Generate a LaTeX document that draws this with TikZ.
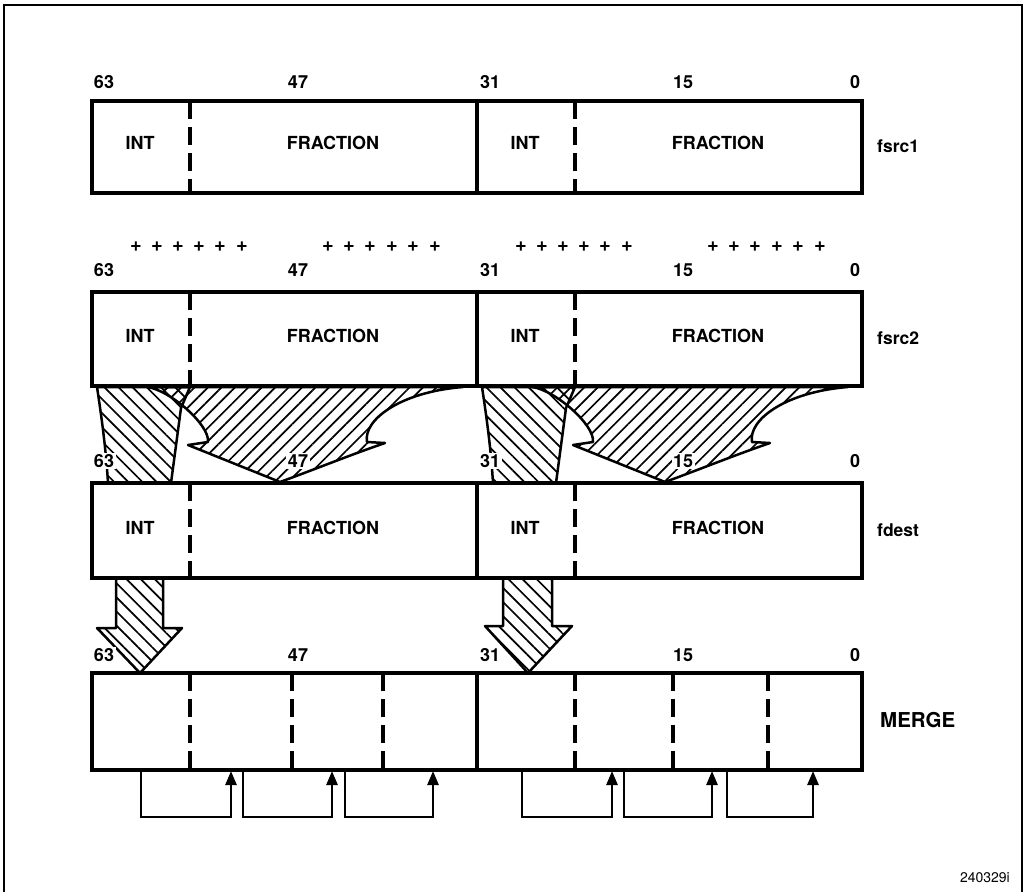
\documentclass[tikz,border=0pt]{standalone}
\usepackage{fontspec}
\setmainfont{TeX Gyre Heros}
\usetikzlibrary{patterns.meta,arrows.meta}
\begin{document}
\begin{tikzpicture}[x=1pt,y=-1pt,
  reg/.style={draw,line width=4pt,minimum width=770pt,inner sep=0pt,outer sep=0pt,anchor=north west},
  solidsep/.style={line width=4pt},
  dsh/.style={line width=4.5pt,dash pattern=on 18pt off 8pt},
  txt/.style={font=\fontsize{18}{20}\selectfont\bfseries,inner sep=0pt},
  num/.style={font=\fontsize{18}{20}\selectfont\bfseries,inner sep=1.5pt,fill=white},
  side/.style={font=\fontsize{17.5}{20}\selectfont\bfseries,inner sep=0pt},
  plus/.style={font=\fontsize{20}{22}\selectfont\bfseries,inner sep=0pt},
  fb/.style={line width=2.6pt,-{Triangle[length=14pt,width=11pt]}},
  hatchA/.style={line width=2.5pt,line join=round,pattern={Lines[angle=-45,distance=10pt,line width=1.7pt]}},
  hatchB/.style={line width=2.5pt,line join=round,pattern={Lines[angle=45,distance=9.5pt,line width=1.7pt]}}
]
\useasboundingbox (0,0) rectangle (1024,891);
\draw[line width=2pt] (4,895) -- (4,5) -- (1022,5) -- (1022,895);

% hatched flows fsrc2 -> fdest (left half and right half)
\foreach \sx in {0,385}{
\begin{scope}[xshift=\sx pt]
  \draw[hatchA] (97,387) .. controls (102,420) and (106,450) .. (108,483) -- (171,483) -- (181,408) -- (190,387) -- cycle;
  \draw[hatchB] (147,387) .. controls (170,390) and (210,425) .. (208,442) -- (188,445) -- (280,482)
     .. controls (313,470) and (350,455) .. (385,443) -- (367,442)
     .. controls (363,420) and (400,392) .. (463,387) -- cycle;
\end{scope}
}
% hatched arrows fdest -> merge
\draw[hatchA] (116,578) -- (116,628) -- (97,628) -- (140,673) -- (182,628) -- (163,628) -- (163,578) -- cycle;
\draw[hatchA] (503,578) -- (503,626) -- (485,626) -- (528,673) -- (572,626) -- (552,626) -- (552,578) -- cycle;

% registers
\node[reg,minimum height=92pt] (s1) at (92,101) {};
\node[reg,minimum height=94pt] (s2) at (92,292) {};
\node[reg,minimum height=95pt] (d) at (92,483) {};
\node[reg,minimum height=97pt] (m) at (92,673) {};

\foreach \r in {s1,s2,d,m}{
  \draw[solidsep] (\r.north west -| 477,0) -- (\r.south west -| 477,0);
  \draw[dsh] (\r.north west -| 190,0) -- (\r.south west -| 190,0);
  \draw[dsh] (\r.north west -| 575,0) -- (\r.south west -| 575,0);
}
\foreach \x in {292,383,673,768}{
  \draw[dsh] (m.north west -| \x,0) -- (m.south west -| \x,0);
}

% field texts
\foreach \r/\y in {s1/143,s2/336,d/528}{
  \node[txt] (\r-intL) at (140,\y) {INT};
  \node[txt] (\r-fracL) at (333,\y) {FRACTION};
  \node[txt] (\r-intR) at (525,\y) {INT};
  \node[txt] (\r-fracR) at (718,\y) {FRACTION};
}
\node[side,anchor=west] (l1) at (877,146) {fsrc1};
\node[side,anchor=west] (l2) at (877,338) {fsrc2};
\node[side,anchor=west] (l3) at (877,530) {fdest};
\node[txt,font=\fontsize{20.5}{22}\selectfont\bfseries,anchor=west] (l4) at (880,720) {MERGE};

% bit numbers
\foreach \y/\k in {82/a,270/b,461/c,655/d}{
  \node[num] (n63\k) at (104,\y) {63};
  \node[num] (n47\k) at (298,\y) {47};
  \node[num] (n31\k) at (490,\y) {31};
  \node[num] (n15\k) at (683,\y) {15};
  \node[num] (n0\k) at (855,\y) {0};
}

% plus signs
\foreach \x [count=\i] in {136,157,178,199,220,242,328,349,370,392,413,435,521,542,563,584,605,627,713,734,755,777,798,820}{
  \node[plus] (p\i) at (\x,247) {+};
}

% merge feedback loops
\foreach \a/\b [count=\i] in {141/231,243/332,345/433,522/612,624/712,727/813}{
  \coordinate (fa\i) at (m.south west -| \a,0);
  \coordinate (fb\i) at (m.south west -| \b,0);
  \draw[fb] (fa\i) |- ([yshift=-47pt]fb\i) -- ([yshift=-1pt]fb\i);
}

\node[font=\fontsize{14}{16}\selectfont,anchor=east,inner sep=0pt] (code) at (1010,878) {240329i};
\end{tikzpicture}
\end{document}
